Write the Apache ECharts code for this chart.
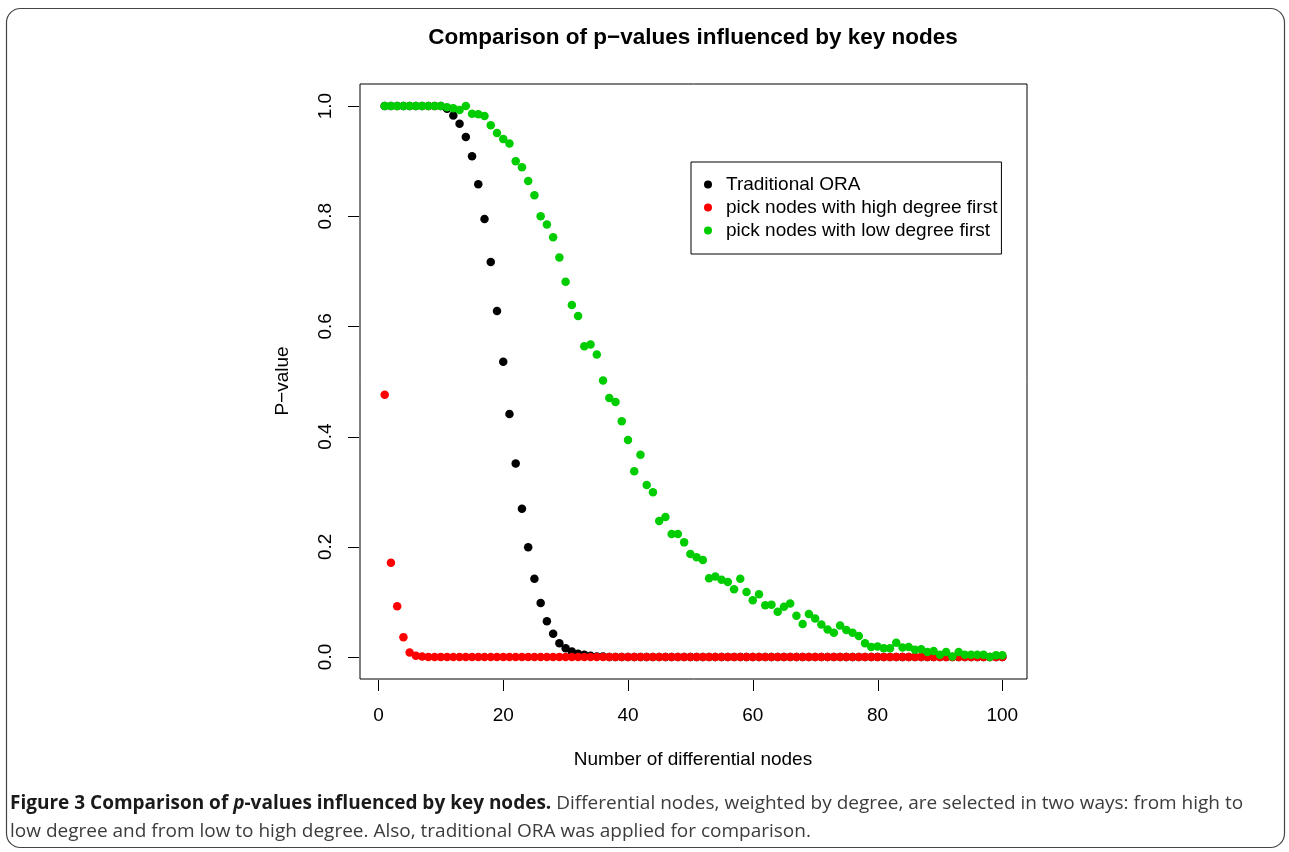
<!DOCTYPE html>
<html lang="en">
<head>
<meta charset="UTF-8">
<title>Comparison of p-values influenced by key nodes</title>
<script src="https://cdn.jsdelivr.net/npm/echarts@6.0.0/dist/echarts.min.js"></script>
<style>
  html, body { margin: 0; padding: 0; background: #fff; }
  #chart { width: 1289px; height: 852px; }
</style>
</head>
<body>
<div id="chart"></div>
<script>
// x = number of differential nodes (1..100)
const nodeCount = Array.from({ length: 100 }, (_, i) => i + 1);

// Traditional ORA
const oraValues = [
  1, 1, 1, 1, 1, 1, 1, 1, 1, 1,
  0.995, 0.983, 0.968, 0.944, 0.909, 0.858, 0.795, 0.717, 0.628, 0.536,
  0.441, 0.351, 0.269, 0.199, 0.142, 0.098, 0.065, 0.042, 0.025, 0.016,
  0.010, 0.006, 0.004, 0.002, 0.001, 0.001, 0, 0, 0, 0,
  0, 0, 0, 0, 0, 0, 0, 0, 0, 0,
  0, 0, 0, 0, 0, 0, 0, 0, 0, 0,
  0, 0, 0, 0, 0, 0, 0, 0, 0, 0,
  0, 0, 0, 0, 0, 0, 0, 0, 0, 0,
  0, 0, 0, 0, 0, 0, 0, 0, 0, 0,
  0, 0, 0, 0, 0, 0, 0, 0, 0, 0
];

// pick nodes with high degree first
const highFirstValues = [
  0.476, 0.171, 0.092, 0.036, 0.008, 0.002, 0.001, 0, 0, 0,
  0, 0, 0, 0, 0, 0, 0, 0, 0, 0,
  0, 0, 0, 0, 0, 0, 0, 0, 0, 0,
  0, 0, 0, 0, 0, 0, 0, 0, 0, 0,
  0, 0, 0, 0, 0, 0, 0, 0, 0, 0,
  0, 0, 0, 0, 0, 0, 0, 0, 0, 0,
  0, 0, 0, 0, 0, 0, 0, 0, 0, 0,
  0, 0, 0, 0, 0, 0, 0, 0, 0, 0,
  0, 0, 0, 0, 0, 0, 0, 0, 0, 0,
  0, 0, 0, 0, 0, 0, 0, 0, 0, 0
];

// pick nodes with low degree first
const lowFirstValues = [
  1, 1, 1, 1, 1, 1, 1, 1, 1, 1,
  0.998, 0.996, 0.993, 1.0, 0.986, 0.985, 0.982, 0.965, 0.951, 0.940,
  0.932, 0.900, 0.889, 0.864, 0.838, 0.800, 0.785, 0.762, 0.725, 0.681,
  0.639, 0.619, 0.564, 0.567, 0.549, 0.502, 0.470, 0.463, 0.428, 0.394,
  0.337, 0.367, 0.312, 0.299, 0.247, 0.254, 0.223, 0.223, 0.208, 0.187,
  0.181, 0.176, 0.143, 0.146, 0.140, 0.136, 0.123, 0.142, 0.118, 0.103,
  0.114, 0.094, 0.095, 0.082, 0.091, 0.097, 0.075, 0.060, 0.078, 0.070,
  0.059, 0.050, 0.044, 0.057, 0.049, 0.044, 0.038, 0.025, 0.018, 0.019,
  0.016, 0.016, 0.026, 0.017, 0.018, 0.013, 0.014, 0.009, 0.011, 0.004,
  0.009, 0.001, 0.009, 0.004, 0.004, 0.004, 0.004, 0.000, 0.003, 0.003
];

const xTicks = [0, 20, 40, 60, 80, 100];
const yTicks = [0, 0.2, 0.4, 0.6, 0.8, 1.0];
const seriesNames = ['Traditional ORA', 'pick nodes with high degree first', 'pick nodes with low degree first'];

const FONT = 'Liberation Sans, Arial, Helvetica, sans-serif';
const X_RANGE = [-2.96, 103.96];   // R's 4% padding around 1..100
const Y_RANGE = [-0.04, 1.04];     // and around 0..1

function pairs(vals) {
  return vals.map((v, i) => [nodeCount[i], v]);
}

// one tick mark as a line shape, from a pixel point on the box edge
function tickShape(p, isX) {
  if (isX) {
    const c = Math.round(p[0]) + 0.5;
    return { x1: c, y1: p[1] + 1, x2: c, y2: p[1] + 12 };
  }
  const c = Math.round(p[1]) + 0.5;
  return { x1: p[0] - 1, y1: c, x2: p[0] - 12, y2: c };
}

// R style ticks drawn by a custom series (full x/y data so nothing is dropped)
function tickSeries(values, isX) {
  return {
    type: 'custom',
    silent: true,
    clip: false,
    z: 5,
    data: values.map(v => isX ? [v, Y_RANGE[0]] : [X_RANGE[0], v]),
    renderItem: function (params, api) {
      const p = api.coord([api.value(0), api.value(1)]);
      return { type: 'line', shape: tickShape(p, isX), style: { stroke: '#000', lineWidth: 1 } };
    }
  };
}

const chart = echarts.init(document.getElementById('chart'), null, { renderer: 'canvas' });

const option = {
  animation: false,
  backgroundColor: '#ffffff',
  grid: {
    left: 360, top: 84, width: 667, height: 595,
    show: true, borderColor: '#000', borderWidth: 1,
    outerBoundsMode: 'none'
  },
  xAxis: {
    type: 'value', min: X_RANGE[0], max: X_RANGE[1],
    axisLine: { show: false, onZero: false },
    splitLine: { show: false },
    axisTick: { show: false },
    axisLabel: { customValues: xTicks, margin: 27, fontSize: 19, color: '#000', fontFamily: FONT }
  },
  yAxis: {
    type: 'value', min: Y_RANGE[0], max: Y_RANGE[1],
    axisLine: { show: false, onZero: false },
    splitLine: { show: false },
    axisTick: { show: false },
    axisLabel: {
      customValues: yTicks, margin: 25, rotate: 90, fontSize: 19, color: '#000', fontFamily: FONT,
      formatter: v => v.toFixed(1)
    }
  },
  legend: {
    data: seriesNames,
    orient: 'vertical',
    left: 691, top: 162,
    padding: [13, 4, 14, 13],
    itemGap: 4,
    itemWidth: 26, itemHeight: 8,
    icon: 'circle',
    borderColor: '#000', borderWidth: 1,
    textStyle: { fontSize: 19, color: '#000', fontFamily: FONT }
  },
  series: [
    { name: seriesNames[0], type: 'scatter', symbolSize: 8.5, itemStyle: { color: '#000000', opacity: 1 }, data: pairs(oraValues), z: 2 },
    { name: seriesNames[1], type: 'scatter', symbolSize: 8.5, itemStyle: { color: '#ff0000', opacity: 1 }, data: pairs(highFirstValues), z: 3 },
    { name: seriesNames[2], type: 'scatter', symbolSize: 8.5, itemStyle: { color: '#00cd00', opacity: 1 }, data: pairs(lowFirstValues), z: 4 },
    tickSeries(xTicks, true),
    tickSeries(yTicks, false)
  ],
  graphic: [
    {
      id: 'frame', type: 'rect', z: -1,
      shape: { x: 6.5, y: 8.5, width: 1278, height: 839, r: 14 },
      style: { fill: 'none', stroke: '#444', lineWidth: 1.2 }
    },
    {
      id: 'title', type: 'text', x: 693, y: 38,
      style: { text: 'Comparison of p\u2212values influenced by key nodes', font: 'bold 22.5px ' + FONT, fill: '#000', textAlign: 'center', textVerticalAlign: 'middle' }
    },
    {
      id: 'xname', type: 'text', x: 693, y: 760,
      style: { text: 'Number of differential nodes', font: '19px ' + FONT, fill: '#000', textAlign: 'center', textVerticalAlign: 'middle' }
    },
    {
      id: 'yname', type: 'text', x: 283, y: 381, rotation: Math.PI / 2,
      style: { text: 'P\u2212value', font: '19px ' + FONT, fill: '#000', textAlign: 'center', textVerticalAlign: 'middle' }
    },
    {
      id: 'cap1', type: 'text', x: 10, y: 804,
      style: {
        text: '{b|Figure 3 Comparison of }{bi|p}{b|-values influenced by key nodes.}{r| Differential nodes, weighted by degree, are selected in two ways: from high to}',
        textVerticalAlign: 'middle',
        rich: {
          b: { font: 'bold 19px Open Sans', fill: '#1a1a1a' },
          bi: { font: 'italic bold 19px Open Sans', fill: '#1a1a1a' },
          r: { font: '19px Open Sans', fill: '#3c3c3c' }
        }
      }
    },
    {
      id: 'cap2', type: 'text', x: 10, y: 832,
      style: {
        text: 'low degree and from low to high degree. Also, traditional ORA was applied for comparison.',
        font: '19px Open Sans', fill: '#3c3c3c', textVerticalAlign: 'middle'
      }
    }
  ]
};

chart.setOption(option);

// second route for the same ticks: graphic lines placed through the series' scales
try {
  const ticks = [];
  xTicks.forEach((v, i) => {
    const p = chart.convertToPixel({ seriesIndex: 0 }, [v, Y_RANGE[0]]);
    if (p && isFinite(p[0]) && isFinite(p[1])) {
      ticks.push({ id: 'xt' + i, type: 'line', z: 10, shape: tickShape(p, true), style: { stroke: '#000', lineWidth: 1 } });
    }
  });
  yTicks.forEach((v, i) => {
    const p = chart.convertToPixel({ seriesIndex: 0 }, [X_RANGE[0], v]);
    if (p && isFinite(p[0]) && isFinite(p[1])) {
      ticks.push({ id: 'yt' + i, type: 'line', z: 10, shape: tickShape(p, false), style: { stroke: '#000', lineWidth: 1 } });
    }
  });
  if (ticks.length) chart.setOption({ graphic: ticks });
} catch (e) {
  console.error(e);
}
</script>
</body>
</html>
